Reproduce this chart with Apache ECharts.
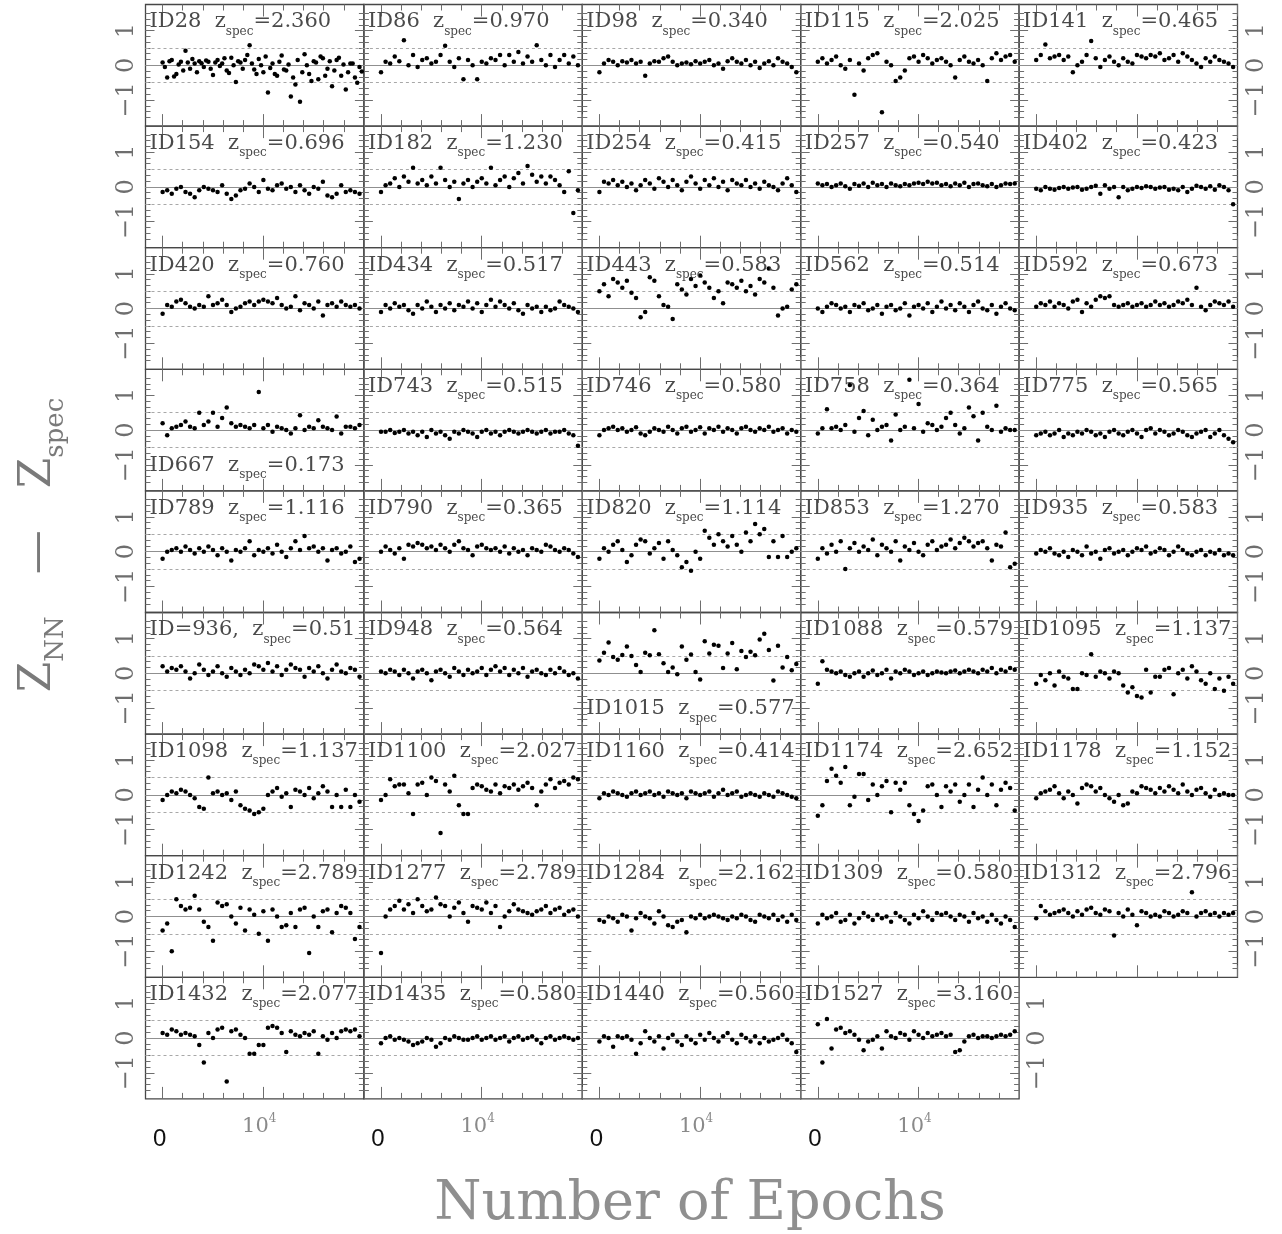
<!DOCTYPE html>
<html><head><meta charset="utf-8">
<script src="https://cdn.jsdelivr.net/npm/echarts@6/dist/echarts.min.js"></script>
<style>html,body{margin:0;padding:0;background:#fff}#c{width:1282px;height:1234px}</style>
</head><body><div id="c"></div>
<script>
// ---------------- data ----------------
const EPOCHS = [0,455,910,1365,1820,2275,2730,3185,3640,4095,4550,5005,5460,5915,6370,6825,7280,7735,8190,8645,9100,9555,10010,10465,10920,11375,11830,12285,12740,13195,13650,14105,14560,15015,15470,15925,16380,16835,17290,17745,18200,18655,19110,19565];
const EPOCHS_HALF = [228,683,1138,1593,2048,2503,2958,3413,3868,4323,4778,5233,5688,6143,6598,7053,7508,7963,8418,8873,9328,9783,10238,10693,11148,11603,12058,12513,12968,13423,13878,14333,14788,15243,15698,16153,16608,17063,17518,17973,18428,18883,19338,19793];
const X_TICK_VALUES = [0, 10000];
const X_TICK_LABELS = ['0', ['10', '4']];
const Y_TICK_VALUES = [-1, 0, 1];
const Y_TICK_LABELS = ['\u22121', '0', '1'];
const DASH_LEVELS = [0.5, -0.5];

const PANEL_IDS = ['ID28','ID86','ID98','ID115','ID141',
  'ID154','ID182','ID254','ID257','ID402',
  'ID420','ID434','ID443','ID562','ID592',
  'ID667','ID743','ID746','ID758','ID775',
  'ID789','ID790','ID820','ID853','ID935',
  'ID=936,','ID948','ID1015','ID1088','ID1095',
  'ID1098','ID1100','ID1160','ID1174','ID1178',
  'ID1242','ID1277','ID1284','ID1309','ID1312',
  'ID1432','ID1435','ID1440','ID1527'];
const Z_SPEC = ['2.360','0.970','0.340','2.025','0.465',
  '0.696','1.230','0.415','0.540','0.423',
  '0.760','0.517','0.583','0.514','0.673',
  '0.173','0.515','0.580','0.364','0.565',
  '1.116','0.365','1.114','1.270','0.583',
  '0.51','0.564','0.577','0.579','1.137',
  '1.137','2.027','0.414','2.652','1.152',
  '2.789','2.789','2.162','0.580','2.796',
  '2.077','0.580','0.560','3.160'];
const BOTTOM_LABEL_PANELS = ['ID667','ID1015'];

const d28 = [0.08,-0.35,0.15,-0.25,0.1,0.42,-0.1,0.05,0.12,-0.05,0.1,-0.28,0.15,0.05,-0.15,0.22,-0.48,0.08,0.15,0.58,-0.12,0.18,-0.2,-0.78,0.05,-0.3,0.28,-0.15,-0.9,-0.55,-1.05,0.32,-0.25,0.12,-0.4,0.2,-0.1,-0.6,0.15,-0.3,-0.7,0.05,-0.35,-0.05];
const d28b = [-0.05,0.12,-0.32,0.02,-0.15,0.08,0.18,-0.2,0.06,0.14,-0.1,0.08,-0.02,0.2,-0.22,0.0,0.12,-0.1,0.3,0.05,-0.25,0.0,0.25,-0.08,-0.25,0.1,-0.12,0.02,-0.35,0.15,-0.2,0.0,-0.45,0.08,0.25,-0.3,0.12,-0.15,0.22,0.02,-0.2,0.05,-0.5,-0.18];
const d86 = [-0.2,0.1,0.05,0.25,0.12,0.72,0.0,0.3,-0.05,0.15,0.2,0.05,0.1,0.3,0.56,0.1,-0.05,0.2,-0.4,0.15,0.0,-0.4,0.1,0.05,0.2,0.15,0.3,0.0,0.3,0.1,0.38,0.05,0.25,0.1,0.58,0.15,0.0,0.3,-0.05,0.15,0.3,0.05,0.25,0.0];
const d98 = [-0.2,0.05,0.15,0.1,0.0,0.12,0.08,0.15,0.05,0.1,-0.3,0.05,0.12,0.1,0.2,0.25,0.1,0.0,0.05,0.08,0.03,0.12,0.05,0.1,0.15,0.0,0.05,-0.1,0.12,0.2,0.1,0.05,0.15,0.0,0.1,-0.08,0.05,0.12,0.0,0.2,0.1,0.05,-0.05,-0.2];
const d115 = [0.1,0.2,0.05,0.15,0.25,0.0,-0.1,0.15,-0.85,0.05,-0.15,0.2,0.3,0.35,-1.35,0.1,0.0,-0.45,-0.35,-0.15,0.2,0.25,0.1,0.3,0.2,0.05,0.15,0.2,0.1,0.0,-0.35,0.15,0.25,0.1,0.05,0.15,0.0,-0.45,0.2,0.35,0.15,0.25,0.3,0.1];
const d141 = [0.15,0.3,0.6,0.2,0.25,0.3,0.15,0.25,-0.2,0.0,0.1,0.3,0.7,0.2,-0.05,0.15,0.25,0.1,0.0,0.2,0.1,0.05,0.3,0.25,0.2,0.3,0.25,0.35,0.15,0.2,0.3,0.1,0.35,0.25,0.15,0.05,-0.05,0.2,0.1,0.25,0.15,0.1,0.05,-0.05];
const d154 = [-0.15,-0.1,-0.2,-0.05,0.0,-0.15,-0.2,-0.3,-0.1,0.0,-0.05,-0.1,-0.15,0.05,-0.2,-0.35,-0.25,-0.1,-0.05,0.1,0.0,-0.15,0.2,-0.05,-0.1,0.05,0.1,-0.05,0.0,-0.15,0.05,-0.1,-0.2,0.0,-0.05,0.15,-0.25,-0.3,-0.2,0.05,-0.15,-0.1,-0.15,-0.2];
const d182 = [-0.15,0.05,0.1,0.25,0.0,0.3,0.15,0.55,0.1,0.2,0.05,0.3,0.1,0.55,0.2,0.0,0.15,-0.35,0.1,0.2,0.0,0.15,0.25,0.1,0.55,0.05,0.2,0.3,0.0,0.25,0.4,0.1,0.6,0.35,0.15,0.3,0.1,0.3,0.2,0.05,-0.15,0.45,-0.75,-0.1];
const d254 = [-0.15,0.15,0.1,0.2,0.05,0.15,0.0,0.1,-0.1,0.05,0.2,0.1,-0.05,0.25,0.15,0.0,0.2,0.05,-0.1,0.15,0.3,0.1,-0.05,0.2,0.05,0.25,0.0,0.15,-0.1,0.2,0.1,0.05,0.2,0.0,0.1,-0.05,0.15,0.05,0.0,-0.1,0.1,0.25,0.05,-0.15];
const d257 = [0.1,0.05,0.08,0.0,0.05,0.1,0.02,-0.05,0.08,0.03,0.1,0.0,0.12,0.05,0.08,0.0,0.1,0.05,0.02,0.08,0.05,0.1,0.12,0.08,0.15,0.1,0.12,0.05,0.08,0.02,0.1,0.05,0.12,0.0,0.08,0.1,0.05,0.02,0.08,0.0,0.05,0.1,0.08,0.1];
const d402 = [-0.05,-0.1,0.0,-0.05,-0.08,-0.03,0.0,-0.05,-0.02,0.0,-0.08,-0.05,0.0,0.03,-0.2,0.05,-0.05,0.0,-0.3,0.0,-0.1,-0.05,0.0,-0.03,0.02,0.0,-0.05,-0.02,0.0,-0.08,-0.05,-0.1,0.0,-0.15,-0.05,0.03,0.0,-0.05,0.02,-0.08,0.05,0.0,-0.1,-0.5];
const d420 = [-0.15,0.1,0.05,0.2,0.25,0.15,0.05,0.0,0.1,0.05,0.35,0.1,0.15,0.25,0.1,-0.1,0.0,0.05,0.15,0.2,0.1,0.2,0.25,0.2,0.15,0.3,0.1,0.0,0.05,0.35,-0.05,0.15,0.1,0.0,0.2,-0.2,0.1,0.15,0.05,0.2,0.1,0.05,0.1,0.0];
const d434 = [-0.1,0.1,0.0,0.15,0.05,0.1,-0.05,-0.15,0.1,0.0,0.2,0.05,-0.1,0.1,0.0,0.15,-0.05,0.1,0.05,0.2,0.0,0.15,-0.1,0.1,0.25,0.05,0.2,0.1,0.0,0.15,-0.05,-0.15,0.1,0.0,0.05,-0.1,0.05,-0.05,0.0,0.2,0.1,0.05,0.0,-0.1];
const d443 = [0.5,0.7,0.35,0.85,0.75,0.6,0.8,0.45,0.3,-0.25,-0.1,0.9,0.8,0.35,0.1,0.05,-0.3,0.7,0.55,0.4,0.85,0.65,0.95,0.75,0.6,0.3,0.5,0.15,0.75,0.7,0.6,0.8,0.5,0.65,0.4,0.85,0.75,1.15,0.6,-0.2,0.0,0.05,0.55,0.7];
const d562 = [0.0,-0.1,0.05,0.15,0.1,0.0,0.05,-0.1,0.1,0.05,0.15,-0.05,0.0,0.1,-0.15,0.05,0.1,-0.05,0.0,0.15,-0.2,0.05,0.1,0.0,0.15,-0.1,0.05,0.2,0.0,0.1,-0.05,0.15,0.05,-0.1,0.1,0.2,0.0,-0.05,0.1,-0.15,0.05,0.15,0.0,-0.05];
const d592 = [0.05,0.15,0.1,0.2,0.05,0.15,0.1,0.0,0.2,0.25,-0.1,0.15,0.05,0.25,0.35,0.3,0.35,0.1,0.05,0.1,0.15,0.05,0.1,0.15,0.05,0.1,0.2,0.1,0.15,0.05,0.1,0.2,0.15,0.25,0.1,0.6,0.05,-0.05,0.1,0.2,0.15,0.1,0.2,0.05];
const d667 = [0.2,-0.15,0.05,0.1,0.15,0.25,0.1,0.05,0.5,0.15,0.25,0.5,0.1,0.35,0.65,0.2,0.1,0.15,0.1,0.05,0.15,1.1,0.05,0.15,-0.05,0.1,0.05,0.0,-0.1,0.05,0.43,0.0,0.1,0.05,0.28,0.1,0.05,0.0,0.39,-0.1,0.1,0.1,0.05,0.15];
const d743 = [-0.05,-0.05,0.0,-0.08,-0.05,0.0,-0.1,-0.05,-0.15,-0.05,-0.2,0.0,-0.1,-0.05,-0.15,-0.25,-0.05,-0.1,0.0,-0.05,-0.1,-0.2,-0.05,0.0,-0.1,-0.05,-0.15,-0.05,0.0,-0.05,-0.1,-0.05,0.0,-0.05,-0.1,-0.05,0.0,-0.1,-0.05,-0.05,0.0,-0.1,-0.15,-0.45];
const d746 = [-0.15,0.0,0.05,0.1,0.0,0.05,-0.05,0.0,0.08,-0.1,-0.15,-0.05,0.05,0.0,-0.05,0.1,0.0,-0.1,0.05,0.1,-0.05,0.0,0.08,-0.1,0.05,0.0,0.1,-0.05,0.05,0.0,-0.1,0.05,0.1,0.0,-0.05,0.05,0.0,0.1,-0.05,0.0,0.05,-0.1,0.0,-0.05];
const d758 = [-0.1,0.05,0.6,0.05,0.1,0.0,0.15,1.3,-0.05,0.35,0.55,-0.15,0.3,0.0,0.1,0.15,-0.3,0.45,0.0,0.1,1.45,0.05,0.75,-0.05,0.2,0.15,0.0,0.1,0.35,0.5,0.15,-0.1,0.05,0.65,0.4,-0.3,0.5,0.1,0.0,0.7,-0.05,0.05,0.0,0.0];
const d775 = [-0.15,-0.1,-0.05,-0.15,-0.1,0.0,-0.2,-0.1,-0.15,-0.05,-0.1,0.0,-0.05,-0.15,-0.1,-0.2,-0.05,0.0,-0.1,-0.15,-0.05,0.0,-0.1,-0.2,0.0,0.05,-0.1,0.0,-0.05,-0.15,-0.1,0.0,-0.05,-0.15,-0.2,-0.1,-0.05,0.0,-0.2,-0.1,0.0,-0.15,-0.25,-0.35];
const d789 = [-0.2,0.0,0.05,0.1,0.0,0.15,0.05,-0.05,0.1,0.0,0.15,0.05,-0.1,0.1,0.0,-0.25,0.05,0.0,0.1,0.3,-0.1,0.05,0.0,0.1,-0.05,0.2,0.0,-0.15,0.1,0.3,0.05,0.45,0.1,0.15,0.0,0.1,-0.25,0.05,0.1,-0.05,0.0,0.15,-0.3,-0.2];
const d790 = [0.0,0.15,0.05,-0.05,0.1,-0.2,0.2,0.15,0.25,0.2,0.1,0.15,0.05,0.2,0.1,0.0,0.2,0.3,0.1,0.05,-0.1,0.15,0.2,0.1,0.05,0.1,0.0,0.15,-0.05,0.1,0.0,0.05,-0.1,0.1,0.05,0.0,0.2,0.15,0.05,0.0,0.1,0.05,-0.05,-0.15];
const d820 = [-0.2,0.1,0.0,0.2,0.3,0.05,-0.3,-0.1,0.2,0.35,0.3,-0.05,0.1,0.25,-0.2,0.3,0.05,-0.1,-0.45,-0.3,-0.55,0.0,-0.2,0.6,0.4,0.2,0.5,0.3,0.15,0.45,0.2,0.0,0.55,0.3,0.8,0.5,0.65,-0.15,0.3,-0.15,0.45,-0.15,0.0,0.1];
const d853 = [-0.2,0.1,-0.05,0.2,0.0,0.3,-0.5,0.1,0.25,0.0,0.15,0.05,0.35,-0.1,0.2,0.1,0.0,0.3,-0.25,0.15,0.05,0.25,0.0,-0.1,0.2,0.3,0.05,0.15,0.2,0.35,0.1,0.25,0.4,0.3,0.15,0.25,0.3,0.1,-0.25,0.2,0.15,0.55,-0.45,-0.35];
const d935 = [-0.05,0.05,0.0,0.1,-0.05,-0.1,0.0,-0.15,0.05,0.0,-0.1,0.15,-0.05,0.0,-0.2,0.05,0.1,-0.05,0.0,0.05,-0.1,0.0,0.1,0.05,0.15,-0.05,0.0,0.1,0.05,-0.1,0.0,0.15,0.05,-0.05,-0.1,0.0,0.05,-0.1,0.0,-0.05,0.05,-0.1,-0.05,-0.1];
const d936 = [0.2,0.05,0.15,0.1,0.2,0.05,-0.15,0.0,0.25,0.1,-0.05,0.05,0.2,0.0,-0.1,0.15,0.05,-0.05,0.1,0.0,0.25,0.2,0.1,0.3,0.05,0.2,-0.05,0.1,0.25,0.15,0.1,-0.1,0.15,0.05,0.2,0.0,-0.15,0.1,0.25,0.05,0.0,0.15,0.1,-0.1];
const d948 = [0.05,0.0,0.1,0.05,-0.05,0.1,0.0,-0.15,0.05,0.1,0.0,-0.2,0.05,0.1,0.0,-0.1,0.15,0.05,-0.05,0.1,0.0,0.05,0.15,-0.05,0.1,0.2,0.05,0.15,-0.05,0.1,0.0,0.15,-0.1,0.05,0.1,0.0,-0.05,0.1,0.0,0.15,0.05,-0.05,0.0,-0.15];
const d1015 = [0.37,0.59,0.89,0.47,0.39,0.53,0.77,0.5,0.24,0.04,0.59,0.52,1.24,0.55,0.29,0.04,0.17,-0.03,0.77,0.39,0.54,0.04,-0.18,0.92,0.57,0.82,0.79,0.15,0.57,0.87,0.12,0.64,0.47,0.62,0.52,0.97,1.14,0.67,-0.21,0.79,0.17,0.47,0.09,0.27];
const d1088 = [-0.3,0.35,0.1,0.05,0.0,0.05,-0.05,-0.1,0.0,0.05,-0.1,0.0,0.08,-0.05,0.0,0.1,-0.15,0.05,0.0,0.1,0.05,-0.05,0.0,0.05,-0.05,0.0,0.05,0.02,0.0,0.05,0.08,0.0,0.05,0.1,0.05,0.0,0.1,0.05,0.15,0.0,0.1,0.05,0.15,0.1];
const d1095 = [-0.3,-0.05,-0.2,0.0,-0.35,0.05,-0.1,-0.15,-0.45,-0.45,0.0,-0.05,0.55,-0.1,0.05,0.0,-0.15,0.05,0.0,-0.35,-0.55,-0.4,-0.65,-0.7,0.1,-0.55,-0.1,-0.1,0.1,0.15,-0.6,0.0,0.1,-0.15,0.2,0.05,-0.2,-0.3,0.0,-0.45,-0.15,-0.5,-0.1,-0.3];
const d1098 = [-0.15,0.0,0.1,0.05,0.15,0.1,0.0,-0.1,-0.35,-0.4,0.5,0.05,0.1,0.0,0.05,-0.15,0.1,-0.3,-0.4,-0.45,-0.55,-0.5,-0.4,0.0,0.1,0.2,-0.05,0.05,-0.35,0.15,0.1,0.0,0.2,-0.1,0.05,0.25,0.1,-0.35,0.0,-0.35,0.15,-0.35,0.0,-0.2];
const d1100 = [-0.15,0.0,0.45,0.25,0.3,0.3,0.05,-0.55,0.3,0.35,0.0,0.5,0.4,-1.1,0.3,0.1,0.55,-0.3,-0.55,-0.55,0.2,0.3,0.25,0.15,0.1,0.3,0.05,0.25,0.2,0.3,0.15,0.25,0.35,0.2,-0.3,0.1,0.3,0.45,0.2,0.35,0.4,0.3,0.5,0.45];
const d1160 = [-0.1,0.05,0.0,0.1,0.05,0.0,-0.05,0.05,0.1,0.0,0.05,0.1,0.0,0.05,-0.05,0.1,0.05,0.0,0.05,-0.1,0.1,0.05,0.0,0.05,0.1,-0.05,0.05,0.15,0.0,0.05,0.1,-0.05,0.0,0.05,0.0,-0.05,0.05,0.0,-0.05,0.1,0.05,0.0,-0.05,-0.1];
const d1174 = [-0.6,-0.3,0.4,0.75,0.55,0.35,0.8,-0.3,-0.05,0.6,0.6,-0.15,0.3,0.0,0.25,0.4,-0.5,0.35,0.15,0.35,-0.3,-0.55,-0.75,-0.45,0.25,0.3,0.0,-0.35,0.25,0.1,0.3,-0.2,0.0,0.3,-0.35,0.15,0.5,0.0,0.3,-0.3,0.15,0.35,0.2,-0.45];
const d1178 = [-0.1,0.05,0.1,0.15,0.25,0.05,-0.1,0.1,0.0,-0.25,0.2,0.3,0.25,0.1,0.2,0.0,-0.1,-0.2,0.0,-0.3,-0.25,0.1,0.05,0.25,0.2,0.15,0.05,0.2,0.1,0.25,0.15,0.05,0.3,0.1,0.0,0.15,0.2,0.05,-0.05,0.15,0.0,0.05,0.0,0.0];
const d1242 = [-0.4,-0.2,-1.0,0.5,0.3,0.2,0.25,0.6,0.2,-0.15,-0.3,-0.7,0.4,0.3,0.35,0.0,-0.2,0.25,-0.4,0.2,0.05,-0.5,0.15,-0.7,0.2,0.0,-0.3,-0.25,0.1,-0.3,0.2,0.25,-1.05,0.0,-0.3,0.15,0.2,-0.45,0.1,0.3,0.25,0.1,-0.65,-0.3];
const d1277 = [-1.05,0.0,0.2,0.3,0.45,0.2,0.35,0.1,0.5,0.3,0.15,0.2,0.55,0.35,0.3,0.0,0.25,0.4,0.1,-0.15,0.3,0.25,0.2,0.4,0.1,0.3,-0.3,0.0,0.15,0.35,0.2,0.15,0.1,0.05,0.15,0.2,0.3,0.1,0.2,0.25,0.05,0.15,0.2,0.0];
const d1284 = [-0.1,-0.15,0.0,-0.05,-0.15,0.05,0.0,-0.4,-0.05,0.1,0.0,-0.05,-0.2,0.15,0.0,-0.25,-0.3,-0.15,-0.1,-0.45,0.0,-0.05,0.05,-0.05,0.0,0.05,0.0,-0.05,-0.1,0.0,-0.05,0.05,0.0,-0.1,-0.15,0.05,0.0,-0.05,0.05,-0.1,0.0,-0.15,0.05,-0.1];
const d1309 = [-0.2,0.05,-0.05,0.0,0.1,-0.15,-0.1,0.05,-0.2,-0.05,0.1,0.0,-0.1,0.05,-0.05,0.0,-0.15,0.1,0.0,-0.1,-0.2,0.05,-0.05,0.15,0.0,-0.1,0.1,0.05,0.1,0.0,-0.1,0.05,0.0,-0.15,0.1,-0.05,0.0,-0.15,0.05,-0.1,-0.2,0.0,-0.1,-0.3];
const d1312 = [-0.05,0.3,0.15,0.05,0.1,0.15,0.2,0.1,0.0,0.15,0.05,0.2,0.25,0.1,0.05,0.2,0.15,-0.55,0.1,0.0,0.2,0.05,-0.25,0.15,0.1,0.0,0.05,0.0,0.15,0.1,0.0,0.05,0.15,0.1,0.7,0.0,0.1,0.15,0.05,0.1,0.0,0.1,0.05,0.1];
const d1432 = [0.15,0.1,0.25,0.2,0.1,0.15,0.1,0.05,-0.2,-0.7,0.15,0.0,0.25,0.3,-1.25,0.2,0.25,0.1,0.0,-0.45,-0.45,-0.2,-0.2,0.3,0.35,0.3,0.15,-0.4,0.2,0.1,0.05,0.15,0.1,0.2,-0.45,0.05,-0.05,0.15,0.0,0.2,0.25,0.2,0.25,0.05];
const d1435 = [-0.15,0.0,0.05,-0.05,0.0,-0.05,-0.1,-0.2,-0.15,-0.1,0.0,-0.05,-0.25,-0.15,0.0,-0.05,0.05,0.0,-0.05,-0.05,0.0,0.05,-0.05,0.0,0.05,-0.05,0.0,0.05,-0.1,0.0,0.05,-0.05,0.0,0.05,-0.05,-0.15,0.0,0.05,-0.05,0.0,0.05,0.0,-0.05,0.0];
const d1440 = [-0.1,0.05,0.0,-0.25,0.05,0.0,0.05,-0.05,-0.45,-0.15,0.2,0.0,-0.1,0.05,-0.3,0.0,0.1,-0.1,-0.2,0.05,-0.05,-0.15,0.1,-0.05,0.15,0.0,-0.1,0.05,0.15,-0.05,-0.15,0.1,0.0,-0.1,0.05,-0.15,0.0,-0.1,-0.05,0.0,0.1,-0.05,-0.15,-0.4];
const d1527 = [0.4,-0.7,0.55,-0.3,0.25,0.3,0.15,0.2,0.1,-0.05,-0.35,-0.1,-0.05,0.05,-0.3,0.2,0.05,0.0,0.15,0.1,-0.05,0.2,0.1,0.0,0.15,0.05,0.1,0.15,0.05,0.1,-0.4,-0.35,-0.1,0.05,0.1,0.0,0.05,0.05,0.0,0.05,0.1,0.05,0.1,0.2];

const PANEL_DATA = [d28,d86,d98,d115,d141, d154,d182,d254,d257,d402, d420,d434,d443,d562,d592,
  d667,d743,d746,d758,d775, d789,d790,d820,d853,d935, d936,d948,d1015,d1088,d1095,
  d1098,d1100,d1160,d1174,d1178, d1242,d1277,d1284,d1309,d1312, d1432,d1435,d1440,d1527];
const EXTRA_DATA = {0: d28b};   // second set of epochs for the densely sampled ID28

// ---------------- layout ----------------
const L0 = 145.5, T0 = 4.5, W = 218.4, H = 121.6, NCOL = 5;
const X_MIN = -1700, X_MAX = 20000;
const Y_MIN = -1.75, Y_MAX = 1.75;
const SERIF = "'DejaVu Serif', serif";
const TICK = '#6e6e6e';

const option = {animation:false, backgroundColor:'#ffffff', grid:[], xAxis:[], yAxis:[], series:[], title:[], graphic:[]};

function hiddenX(g){ return {gridIndex:g, type:'value', show:false, min:0, max:1, axisLine:{onZero:false}}; }
function hiddenY(g){ return {gridIndex:g, type:'value', show:false, min:0, max:1, axisLine:{onZero:false}}; }

const yFmt = v => { const k = Y_TICK_VALUES.findIndex(t => Math.abs(t - v) < 1e-6); return k >= 0 ? Y_TICK_LABELS[k] : ''; };
const xFmt = v => {
  const k = X_TICK_VALUES.findIndex(t => Math.abs(t - v) < 1e-6);
  if (k < 0) return '';
  const lab = X_TICK_LABELS[k];
  return Array.isArray(lab) ? '{t|' + lab[0] + '}{p|' + lab[1] + '}' : '{z|' + lab + '}';
};
const yLabelStyle = {show:true, rotate:90, margin:7, color:'#6e6e6e', fontFamily:SERIF, fontSize:24, formatter:yFmt};
const dotStyle = {color:'#000', opacity:1};

PANEL_IDS.forEach((id, i) => {
  const row = Math.floor(i / NCOL), col = i % NCOL;
  const left = L0 + col * W, top = T0 + row * H;
  const lastPanel = i === PANEL_IDS.length - 1;

  // main frame + data grid
  const gM = option.grid.length;
  option.grid.push({left, top, width:W, height:H, show:true, borderColor:'#474747', borderWidth:1.3, backgroundColor:'transparent'});
  const xM = option.xAxis.length;
  option.xAxis.push({gridIndex:gM, type:'value', show:false, min:X_MIN, max:X_MAX, axisLine:{onZero:false}});
  const yM = option.yAxis.length;
  option.yAxis.push({gridIndex:gM, type:'value', show:false, min:Y_MIN, max:Y_MAX, axisLine:{onZero:false}});

  // x ticks grid: spans epochs 0..20000
  const gX = option.grid.length;
  const xl = left + W * (0 - X_MIN) / (X_MAX - X_MIN);
  option.grid.push({left:xl, top, width: W * (20000 - 0) / (X_MAX - X_MIN), height:H, show:false});
  ['bottom','top'].forEach(pos => {
    const withLabels = pos === 'bottom' && row === Math.floor((PANEL_IDS.length - 1) / NCOL);
    option.xAxis.push({gridIndex:gX, type:'value', position:pos, min:0, max:20000, interval:10000,
      axisLine:{show:false, onZero:false}, splitLine:{show:false},
      axisTick:{show:true, inside:true, length:12, lineStyle:{color:TICK, width:1}},
      minorTick:{show:true, splitNumber:5, length:6, lineStyle:{color:TICK, width:1}},
      axisLabel: withLabels ? {show:true, margin:8, formatter:xFmt, rich:{
        z:{fontFamily:"'Liberation Sans', Arial, sans-serif", fontSize:24, color:'#111', lineHeight:24, verticalAlign:'top', padding:[20,6,0,0]},
        t:{fontFamily:SERIF, fontSize:21, color:'#8a8a8a', lineHeight:22, verticalAlign:'top', padding:[9,0,0,0]},
        p:{fontFamily:SERIF, fontSize:12, color:'#8a8a8a', lineHeight:12, verticalAlign:'top', padding:[6,8,0,0]}
      }} : {show:false}});
  });
  option.yAxis.push(hiddenY(gX));

  // y minor ticks grid: -1.5..1.5
  const gY = option.grid.length;
  option.grid.push({left, top: top + H * (Y_MAX - 1.5) / (Y_MAX - Y_MIN), width:W, height: H * 3 / (Y_MAX - Y_MIN), show:false});
  option.xAxis.push(hiddenX(gY));
  ['left','right'].forEach(pos => option.yAxis.push({gridIndex:gY, type:'value', position:pos, min:-1.5, max:1.5, interval:0.5,
    axisLine:{show:false, onZero:false}, splitLine:{show:false}, axisLabel:{show:false},
    axisTick:{show:true, inside:true, length:5, lineStyle:{color:TICK, width:1}},
    minorTick:{show:true, splitNumber:3, length:5, lineStyle:{color:TICK, width:1}}}));

  // y major ticks + labels grid: -1..1
  const gY2 = option.grid.length;
  option.grid.push({left, top: top + H * (Y_MAX - 1) / (Y_MAX - Y_MIN), width:W, height: H * 2 / (Y_MAX - Y_MIN), show:false});
  option.xAxis.push(hiddenX(gY2));
  ['left','right'].forEach(pos => {
    const lab = (pos === 'left' && col === 0) || (pos === 'right' && (col === NCOL - 1 || lastPanel));
    option.yAxis.push({gridIndex:gY2, type:'value', position:pos, min:-1, max:1, interval:1,
      axisLine:{show:false, onZero:false}, splitLine:{show:false},
      axisTick:{show:true, inside:true, length:9, lineStyle:{color:TICK, width:1}},
      axisLabel: lab ? yLabelStyle : {show:false}});
  });

  // data
  const mk = (vals, eps) => vals.map((v, k) => [eps[k], v]);
  option.series.push({type:'scatter', xAxisIndex:xM, yAxisIndex:yM, symbol:'circle', symbolSize:4.5,
    itemStyle:dotStyle, silent:true, data: mk(PANEL_DATA[i], EPOCHS), z:3,
    markLine:{silent:true, symbol:'none', label:{show:false}, animation:false, z:1,
      data:[{yAxis:0, lineStyle:{type:'solid', color:'#8f8f8f', width:1.2}},
            {yAxis:DASH_LEVELS[0], lineStyle:{type:[3,3], color:'#a8a8a8', width:1}},
            {yAxis:DASH_LEVELS[1], lineStyle:{type:[3,3], color:'#a8a8a8', width:1}}]}});
  if (EXTRA_DATA[i]) {
    option.series.push({type:'scatter', xAxisIndex:xM, yAxisIndex:yM, symbol:'circle', symbolSize:4.5,
      itemStyle:dotStyle, silent:true, data: mk(EXTRA_DATA[i], EPOCHS_HALF), z:3});
  }

  // panel label
  const atBottom = BOTTOM_LABEL_PANELS.includes(id);
  option.title.push({left: left + 4, top: top + (atBottom ? 86 : 7), padding:0,
    text: '{a|' + id + '  z}{s|spec}{a|=' + Z_SPEC[i] + '}',
    textStyle:{fontWeight:'normal', rich:{
      a:{fontFamily:SERIF, fontSize:21, color:'#4a4a4a', lineHeight:22, verticalAlign:'top', fontWeight:'normal'},
      s:{fontFamily:SERIF, fontSize:12, color:'#4a4a4a', lineHeight:14, verticalAlign:'top', padding:[14,0,0,0], fontWeight:'normal'}
    }}});
});

// axis titles
option.graphic.push({type:'text', x:40, y:545, rotation:Math.PI/2, silent:true,
  style:{text:'{Z|Z}{n|NN}{Z|   \u2014   }{Z|Z}{n|spec}', align:'center', verticalAlign:'middle', fill:'#7a7a7a',
    rich:{Z:{fontFamily:SERIF, fontSize:44, fill:'#7a7a7a', lineHeight:46, verticalAlign:'top'},
          n:{fontFamily:SERIF, fontSize:26, fill:'#7a7a7a', lineHeight:26, verticalAlign:'top', padding:[26,0,0,0]}}}});
option.graphic.push({type:'text', x:690, y:1205, silent:true,
  style:{text:'Number of Epochs', fontFamily:SERIF, fontSize:54, fill:'#8f8f8f', align:'center', verticalAlign:'middle'}});

const chart = echarts.init(document.getElementById('c'), null, {renderer:'canvas', width:1282, height:1234});
chart.setOption(option);
</script>
</body></html>
